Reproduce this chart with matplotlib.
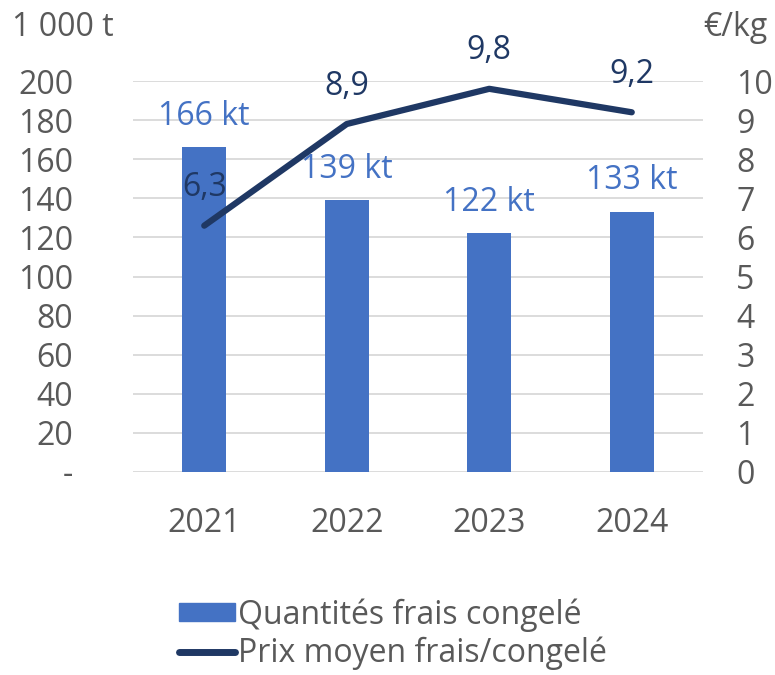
import numpy as np
import matplotlib
matplotlib.use('Agg')
import matplotlib.pyplot as plt
from matplotlib.patches import Patch
from matplotlib.lines import Line2D

years = ['2021', '2022', '2023', '2024']
quantites = [166, 139, 122, 133]      # 1 000 t
prix = [6.3, 8.9, 9.8, 9.2]           # EUR/kg

bar_color = '#4472C4'
line_color = '#1F3864'
text_gray = '#595959'
fs = 23

plt.rcParams['font.family'] = ['Open Sans', 'DejaVu Sans']

fig = plt.figure(figsize=(7.75, 6.75), dpi=100)
# axes box in pixels: x 133..703, y 81..472 (from top)
W, H = 775, 675
ax = fig.add_axes([133 / W, 1 - 472 / H, 570 / W, 391 / H])
ax2 = ax.twinx()

x = np.arange(len(years))
ax.bar(x, quantites, width=0.31, color=bar_color, zorder=2)
ax.set_xlim(-0.5, len(years) - 0.5)
ax.set_ylim(0, 200)
ax.set_yticks(np.arange(0, 201, 20))
ax.set_yticklabels(['-'] + [str(v) for v in range(20, 201, 20)])
ax.grid(axis='y', color='#D9D9D9', lw=1.3, zorder=0)
ax.set_axisbelow(True)
ax.set_xticks(x)
ax.set_xticklabels(years)
for s in ax.spines.values():
    s.set_visible(False)
ax.tick_params(axis='both', length=0, colors=text_gray, labelsize=fs)
ax.tick_params(axis='y', pad=43)
ax.tick_params(axis='x', pad=25)

for xi, q in zip(x, quantites):
    ax.annotate(f'{q} kt', (xi, q), xytext=(0, 31), textcoords='offset pixels',
                ha='center', va='center', color=bar_color, fontsize=fs)

ax2.plot(x, prix, color=line_color, lw=4.5, solid_capstyle='round', zorder=3)
ax2.set_ylim(0, 10)
ax2.set_yticks(np.arange(0, 11, 1))
for s in ax2.spines.values():
    s.set_visible(False)
ax2.tick_params(axis='y', length=0, colors=text_gray, labelsize=fs, pad=24)

for xi, p in zip(x, prix):
    ax2.annotate(f'{p:.1f}'.replace('.', ','), (xi, p), xytext=(0, 38),
                 textcoords='offset pixels', ha='center', va='center',
                 color=line_color, fontsize=fs)

fig.text(12 / W, 1 - 27 / H, '1 000 t', ha='left', va='center',
         color=text_gray, fontsize=fs)
fig.text(768 / W, 1 - 27 / H, '€/kg', ha='right', va='center',
         color=text_gray, fontsize=fs)

handles = [Patch(color=bar_color), Line2D([0], [0], color=line_color, lw=5,
                                          solid_capstyle='round')]
labels = ['Quantités frais congelé', 'Prix moyen frais/congelé']
fig.legend(handles, labels, loc='center left', bbox_to_anchor=(163 / W, 1 - 634 / H),
           frameon=False, fontsize=fs, labelcolor=text_gray, handlelength=1.75,
           handleheight=0.5, handletextpad=0.1, labelspacing=0.15, borderpad=0)

fig.savefig('out.png', dpi=100)
